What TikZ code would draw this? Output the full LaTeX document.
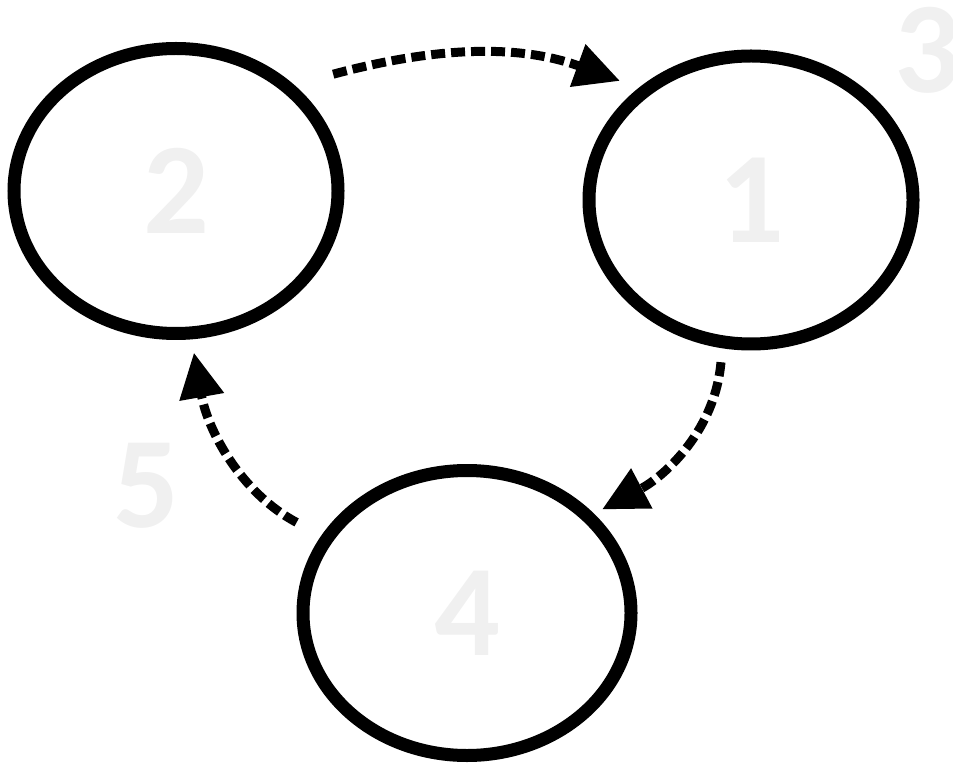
\documentclass[tikz,border=0pt]{standalone}
\usepackage{fontspec}
\setmainfont{Carlito}
\usepackage{tikz}
\usetikzlibrary{arrows.meta}
\usetikzlibrary{shapes.geometric}
\definecolor{lgray}{gray}{0.94}

\begin{document}
\begin{tikzpicture}[
    stage/.style={ellipse, draw=black, line width=0.26cm, inner sep=0,
      minimum width=6.48cm, minimum height=5.7cm, text=lgray,
      font=\fontsize{74}{74}\selectfont\bfseries},
    num/.style={inner sep=0, text=lgray, font=\fontsize{74}{74}\selectfont\bfseries},
    flow/.style={line width=0.18cm, dash pattern=on 0.28cm off 0.12cm,
      -{Triangle[length=0.9cm, width=0.86cm]}}
  ]
    \useasboundingbox (0, 0) rectangle (19.06, -15.34);

    \node [stage] (e2) at (3.52, -3.82) {2};
    \node [stage, minimum height=5.76cm] (e1) at (15.02, -4.0) {1};
    \node [stage, minimum width=6.56cm] (e4) at (9.34, -12.26) {4};

    \node [num] (n3) at (18.54, -1.0) {3};
    \node [num] (n5) at (2.92, -9.72) {5};

    \draw [flow, shorten <=0.81cm, shorten >=0.4cm] (e2.42) to [out=15, in=160] (e1.135);
    \draw [flow, shorten <=0.28cm, shorten >=0.18cm] (e1.259) to [out=-95, in=28] (e4.38);
    \draw [flow, shorten <=0.56cm, shorten >=0.27cm] (e4.152) to [out=152, in=-80] (e2.276);
  \end{tikzpicture}
\end{document}
